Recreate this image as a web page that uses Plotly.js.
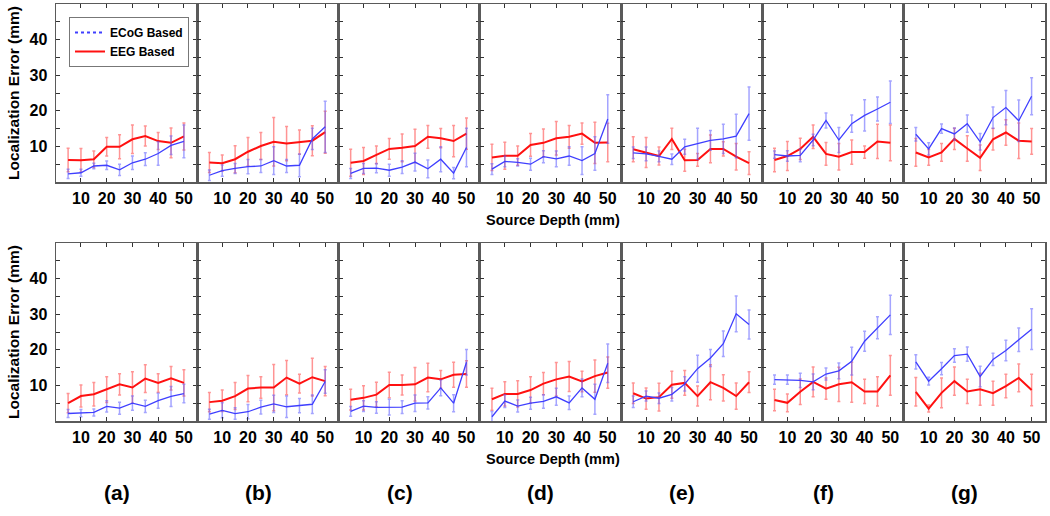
<!DOCTYPE html>
<html>
<head>
<meta charset="utf-8">
<script src="https://cdn.plot.ly/plotly-3.0.1.min.js"></script>
<style>
html,body{margin:0;padding:0;background:#fff;}
#chart{width:1050px;height:516px;}
</style>
</head>
<body>
<div id="chart"></div>
<script>
// ---------- DATA ----------
const depths = [5, 10, 15, 20, 25, 30, 35, 40, 45, 50];
const panelLabels = ['(a)', '(b)', '(c)', '(d)', '(e)', '(f)', '(g)'];
const xTickVals = [10, 20, 30, 40, 50];
const yTickVals = [5, 10, 15, 20, 25, 30, 35, 40, 45];
const yTickText = ['', '10', '', '20', '', '30', '', '40', ''];
const seriesNames = ['ECoG Based', 'EEG Based'];
const xTitle = 'Source Depth (mm)';
const yTitle = 'Localization Error (mm)';

// Top row (panels a-g)
const ecogTop = [
  [2.3, 2.6, 4.5, 4.7, 3.4, 5.4, 6.4, 8.0, 10.3, 11.4],
  [1.9, 3.2, 3.8, 4.3, 4.5, 6.0, 4.5, 4.7, 12.1, 15.5],
  [2.4, 3.8, 3.9, 3.3, 4.2, 5.6, 3.7, 6.4, 2.5, 9.7],
  [3.6, 5.8, 5.5, 5.0, 7.1, 6.5, 7.3, 6.0, 8.0, 17.7],
  [8.2, 7.9, 7.2, 6.4, 9.9, 10.7, 11.7, 12.1, 12.9, 19.2],
  [7.7, 7.3, 7.5, 11.8, 17.3, 11.8, 16.4, 18.7, 20.5, 22.4],
  [13.4, 9.3, 15.0, 13.5, 16.4, 11.3, 18.1, 20.9, 17.2, 24.1]
];
const ecogTopErr = [
  [1.3, 1.0, 0.8, 1.2, 1.6, 1.9, 1.8, 3.3, 2.6, 4.6],
  [1.5, 1.6, 1.4, 2.0, 1.8, 3.9, 1.8, 3.2, 3.0, 7.2],
  [1.4, 1.4, 1.3, 1.7, 1.8, 2.5, 2.5, 3.5, 1.6, 5.4],
  [1.5, 1.5, 1.0, 1.7, 1.7, 2.2, 2.6, 3.9, 4.7, 6.8],
  [1.6, 1.9, 1.5, 1.5, 2.1, 4.4, 2.8, 4.1, 6.1, 7.5],
  [1.0, 1.5, 1.8, 1.6, 2.1, 3.5, 2.4, 4.4, 3.4, 6.0],
  [1.9, 1.7, 1.3, 1.7, 2.4, 2.3, 3.0, 4.8, 5.8, 5.2]
];
const eegTop = [
  [6.2, 6.1, 6.4, 9.9, 9.9, 12.0, 12.9, 11.5, 11.0, 12.8],
  [5.5, 5.3, 6.4, 8.5, 10.1, 11.3, 10.8, 11.2, 11.6, 14.0],
  [5.4, 5.9, 7.6, 9.3, 9.6, 10.1, 12.7, 12.3, 11.5, 13.6],
  [6.9, 7.4, 7.4, 10.4, 11.0, 12.3, 12.7, 13.6, 11.0, 11.1],
  [9.2, 8.3, 7.3, 12.1, 6.1, 6.2, 9.3, 9.3, 7.1, 5.3],
  [6.2, 7.3, 9.3, 12.7, 7.9, 7.1, 8.4, 8.4, 11.4, 11.0],
  [8.3, 6.9, 8.3, 12.1, 9.4, 6.8, 12.0, 13.9, 11.6, 11.4]
];
const eegTopErr = [
  [3.3, 3.3, 2.3, 2.6, 3.4, 4.0, 2.8, 2.4, 4.2, 3.8],
  [2.8, 2.3, 3.8, 4.0, 3.8, 6.8, 4.8, 3.4, 4.2, 5.9],
  [3.8, 3.8, 2.5, 2.9, 3.9, 4.7, 3.2, 2.7, 4.4, 4.4],
  [3.7, 3.8, 2.7, 3.2, 3.9, 4.7, 3.2, 3.0, 5.8, 5.4],
  [3.5, 4.2, 2.5, 3.0, 3.1, 1.8, 3.9, 2.0, 3.7, 3.2],
  [3.3, 4.1, 3.0, 3.3, 3.2, 3.7, 3.4, 1.7, 4.8, 5.0],
  [3.9, 2.2, 2.5, 3.0, 3.6, 3.6, 3.0, 3.6, 5.0, 3.6]
];

// Bottom row (panels a-g)
const ecogBottom = [
  [2.1, 2.2, 2.4, 4.1, 3.6, 5.0, 4.1, 5.7, 6.9, 7.7],
  [1.9, 3.0, 2.1, 2.6, 3.9, 4.8, 4.0, 4.3, 4.7, 11.1],
  [2.7, 4.2, 3.8, 3.9, 3.9, 5.0, 5.1, 9.3, 5.0, 16.5],
  [1.2, 5.6, 4.2, 5.0, 5.5, 6.8, 5.1, 9.3, 6.1, 16.2],
  [5.4, 7.0, 6.4, 7.5, 10.4, 14.7, 17.7, 21.7, 30.1, 27.1],
  [11.6, 11.6, 11.4, 11.0, 13.2, 14.1, 16.8, 22.4, 26.2, 29.8],
  [16.6, 11.2, 14.7, 18.4, 18.8, 12.5, 17.3, 19.8, 22.8, 25.8]
];
const ecogBottomErr = [
  [1.1, 1.0, 1.0, 1.6, 1.7, 2.0, 1.7, 2.1, 2.8, 2.6],
  [1.4, 2.1, 1.6, 2.0, 1.9, 2.4, 3.0, 2.0, 2.6, 3.3],
  [1.4, 1.5, 1.6, 2.2, 1.8, 2.3, 1.7, 2.2, 2.4, 3.6],
  [1.5, 1.8, 1.7, 1.7, 1.9, 2.4, 1.9, 2.5, 4.2, 5.4],
  [1.6, 1.4, 1.5, 1.9, 2.0, 3.8, 2.4, 3.6, 5.0, 4.1],
  [1.3, 1.3, 2.0, 2.2, 1.7, 2.2, 3.9, 2.8, 3.1, 5.5],
  [2.0, 1.1, 1.7, 1.9, 2.0, 2.9, 1.7, 2.9, 3.3, 5.7]
];
const eegBottom = [
  [5.0, 7.0, 7.5, 8.8, 10.3, 9.4, 11.9, 10.7, 12.0, 10.7],
  [5.3, 5.7, 7.0, 9.1, 9.4, 9.4, 12.2, 10.5, 12.3, 11.2],
  [6.0, 6.5, 7.4, 10.1, 10.1, 10.3, 12.2, 11.7, 13.0, 13.2],
  [6.1, 7.6, 7.6, 8.7, 10.5, 11.7, 12.5, 11.1, 12.6, 13.6],
  [7.8, 6.3, 6.7, 10.2, 10.7, 7.0, 10.9, 9.3, 7.0, 10.9],
  [5.9, 5.1, 8.2, 11.0, 9.1, 10.3, 10.9, 8.3, 8.3, 12.8],
  [8.2, 3.5, 7.9, 11.2, 8.3, 8.9, 7.8, 9.8, 12.1, 8.7]
];
const eegBottomErr = [
  [2.7, 3.1, 3.3, 3.6, 3.0, 4.4, 3.9, 2.6, 3.3, 3.7],
  [2.7, 3.0, 3.8, 3.7, 3.0, 6.5, 4.8, 2.6, 5.3, 4.1],
  [2.9, 3.4, 3.5, 3.6, 2.8, 4.7, 4.0, 2.5, 3.5, 3.7],
  [3.1, 3.4, 3.7, 3.7, 3.1, 4.7, 4.2, 2.9, 4.5, 4.4],
  [2.9, 3.0, 3.9, 3.8, 3.5, 2.8, 4.9, 3.7, 3.7, 2.9],
  [3.0, 2.5, 3.6, 4.2, 3.0, 4.8, 5.6, 3.4, 4.1, 5.6],
  [4.0, 1.0, 4.2, 4.0, 3.4, 4.5, 3.4, 3.3, 3.9, 4.4]
];

// ---------- STYLE / LAYOUT ----------
const W = 1050, H = 516;
const FONT = 'Liberation Sans, Arial, Helvetica, sans-serif';
const BLUE = '#3f3fff', RED = '#ff1010';
const BLUE_ERR = 'rgba(90,90,255,0.55)', RED_ERR = 'rgba(255,60,60,0.55)';
const plotLeft = 56, plotRight = 1045;
const panelW = (plotRight - plotLeft) / 7;
const rows = [
  {top: 4, bottom: 182, ecog: ecogTop, ecogErr: ecogTopErr, eeg: eegTop, eegErr: eegTopErr},
  {top: 243, bottom: 421, ecog: ecogBottom, ecogErr: ecogBottomErr, eeg: eegBottom, eegErr: eegBottomErr}
];

const traces = [];
const layout = {
  width: W, height: H,
  margin: {l: 0, r: 0, t: 0, b: 0},
  paper_bgcolor: '#fff', plot_bgcolor: '#fff',
  font: {family: FONT, color: '#000'},
  showlegend: true,
  legend: {
    x: 69 / W, y: 1 - 17 / H, xanchor: 'left', yanchor: 'top',
    bgcolor: '#fff', bordercolor: '#777', borderwidth: 1,
    font: {family: FONT, size: 12, weight: 'bold', color: '#000'},
    tracegroupgap: 0, itemwidth: 30
  },
  annotations: [],
  hovermode: false
};

rows.forEach((row, r) => {
  for (let p = 0; p < 7; p++) {
    const n = r * 7 + p + 1;
    const xa = 'xaxis' + (n === 1 ? '' : n);
    const ya = 'yaxis' + (n === 1 ? '' : n);
    const xr = 'x' + (n === 1 ? '' : n);
    const yr = 'y' + (n === 1 ? '' : n);
    layout[xa] = {
      domain: [(plotLeft + p * panelW) / W, (plotLeft + (p + 1) * panelW) / W],
      anchor: yr, range: [0.3, 55.2],
      tickvals: xTickVals, ticks: 'inside', ticklen: 4, tickwidth: 1, tickcolor: '#333',
      showline: true, linecolor: '#5a5a5a', linewidth: 1.5, mirror: 'ticks',
      showgrid: false, zeroline: false,
      tickfont: {family: FONT, size: 16, weight: 'bold', color: '#000'},
      ticklabelstandoff: 1
    };
    layout[ya] = {
      domain: [1 - row.bottom / H, 1 - row.top / H],
      anchor: xr, range: [0, 50],
      tickvals: yTickVals, ticktext: yTickText,
      ticks: 'inside', ticklen: 4, tickwidth: 1, tickcolor: '#333',
      showline: true, linecolor: '#5a5a5a', linewidth: 1.5, mirror: 'ticks',
      showgrid: false, zeroline: false,
      showticklabels: p === 0,
      tickfont: {family: FONT, size: 16, weight: 'bold', color: '#000'},
      ticklabelstandoff: 4
    };
    traces.push({
      type: 'scatter', mode: 'lines', x: depths, y: row.eeg[p],
      xaxis: xr, yaxis: yr, showlegend: false,
      line: {color: RED, width: 2},
      error_y: {type: 'data', array: row.eegErr[p], visible: true, color: RED_ERR, thickness: 1.5, width: 1.5}
    });
    traces.push({
      type: 'scatter', mode: 'lines', x: depths, y: row.ecog[p],
      xaxis: xr, yaxis: yr, showlegend: false,
      line: {color: BLUE, width: 1.3},
      error_y: {type: 'data', array: row.ecogErr[p], visible: true, color: BLUE_ERR, thickness: 1.5, width: 1.5}
    });
  }
  // y title
  layout.annotations.push({
    xref: 'paper', yref: 'paper', x: 13 / W, y: 1 - (row.top + row.bottom) / 2 / H,
    text: '<b>' + yTitle + '</b>', textangle: -90, showarrow: false,
    font: {family: FONT, size: 15.5, color: '#000'}, xanchor: 'center', yanchor: 'middle'
  });
  // x title
  layout.annotations.push({
    xref: 'paper', yref: 'paper', x: 553 / W, y: 1 - (row.bottom + 38) / H,
    text: '<b>' + xTitle + '</b>', showarrow: false,
    font: {family: FONT, size: 14.5, color: '#000'}, xanchor: 'center', yanchor: 'middle'
  });
});

// Panel labels
panelLabels.forEach((lab, p) => {
  layout.annotations.push({
    xref: 'paper', yref: 'paper',
    x: (plotLeft + p * panelW + 0.432 * panelW) / W, y: 1 - 492 / H,
    text: '<b>' + lab + '</b>', showarrow: false,
    font: {family: FONT, size: 21, color: '#000'}, xanchor: 'center', yanchor: 'middle'
  });
});

// Legend-only traces
traces.push({type: 'scatter', mode: 'lines', x: [null], y: [null], name: seriesNames[0],
  xaxis: 'x', yaxis: 'y', showlegend: true, line: {color: BLUE, width: 2, dash: 'dot'}});
traces.push({type: 'scatter', mode: 'lines', x: [null], y: [null], name: seriesNames[1],
  xaxis: 'x', yaxis: 'y', showlegend: true, line: {color: RED, width: 2}});

Plotly.newPlot('chart', traces, layout, {displayModeBar: false, staticPlot: true});
</script>
</body>
</html>
